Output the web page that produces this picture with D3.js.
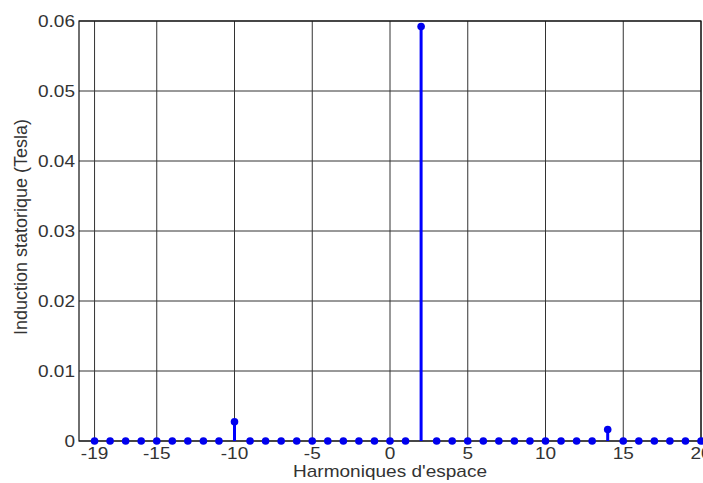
<!DOCTYPE html>
<html>
  <head>
    <style>
      body { margin: 0; background: #fff; }
      text { font-family: "Liberation Sans", Arial, sans-serif; fill: #333; font-size: 17px; }
    </style>
  </head>
  <body>
    <svg class="surface" width="703" height="483"></svg>

    <script src="https://cdn.jsdelivr.net/npm/d3@7/dist/d3.min.js"></script>
    <script>
      // harmonic ranks and their induction
      const harmonics = d3.range(-19, 21)
      const peaks = { '-10': 0.00275, '2': 0.0592, '14': 0.00165 }
      const induction = harmonics.map(h => peaks[h] || 0)

      const xTicks = [-19, -15, -10, -5, 0, 5, 10, 15, 20]
      const yTicks = [0, 0.01, 0.02, 0.03, 0.04, 0.05, 0.06]

      const data = harmonics.map((h, i) => ({ h, v: induction[i] }))

      const svg = d3.select('.surface')
      const plotL = 79, plotR = 701, plotT = 21, plotB = 441
      const sx = 1.12 // the source picture is a bit wide

      const x = d3.scaleLinear().domain([-20, 20]).range([plotL, plotR])
      const y = d3.scaleLinear().domain([0, 0.06]).range([plotB, plotT])

      // grid
      svg.append('g').selectAll('line')
        .data(xTicks)
        .enter().append('line')
        .attr('x1', d => x(d)).attr('x2', d => x(d))
        .attr('y1', plotT).attr('y2', plotB)
        .attr('stroke', '#333').attr('stroke-width', 1)

      svg.append('g').selectAll('line')
        .data(yTicks)
        .enter().append('line')
        .attr('x1', plotL).attr('x2', plotR)
        .attr('y1', d => y(d)).attr('y2', d => y(d))
        .attr('stroke', '#333').attr('stroke-width', 1)

      // box
      svg.append('rect')
        .attr('x', plotL).attr('y', plotT)
        .attr('width', plotR - plotL).attr('height', plotB - plotT)
        .attr('fill', 'none').attr('stroke', '#111').attr('stroke-width', 1.2)

      // tick labels
      svg.append('g').selectAll('text')
        .data(xTicks)
        .enter().append('text')
        .attr('transform', d => `translate(${x(d)},459) scale(${sx},1)`)
        .attr('text-anchor', 'middle')
        .text(d => d)

      svg.append('g').selectAll('text')
        .data(yTicks)
        .enter().append('text')
        .attr('transform', d => `translate(${plotL - 4},${y(d) + 6}) scale(${sx},1)`)
        .attr('text-anchor', 'end')
        .text(d => d === 0 ? '0' : d3.format('.2f')(d))

      svg.append('text')
        .attr('transform', `translate(${x(0)},477) scale(${sx},1)`)
        .attr('text-anchor', 'middle')
        .text("Harmoniques d'espace")

      svg.append('text')
        .attr('transform', `translate(27,227) rotate(-90)`)
        .attr('text-anchor', 'middle')
        .style('font-size', '18px')
        .text('Induction statorique (Tesla)')

      // stems
      const stems = svg.append('g')
      stems.selectAll('line')
        .data(data.filter(d => d.v > 0))
        .enter().append('line')
        .attr('x1', d => x(d.h)).attr('x2', d => x(d.h))
        .attr('y1', y(0)).attr('y2', d => y(d.v))
        .attr('stroke', '#0000ff').attr('stroke-width', 3)

      stems.selectAll('circle')
        .data(data)
        .enter().append('circle')
        .attr('cx', d => x(d.h))
        .attr('cy', d => y(d.v))
        .attr('r', 3.8)
        .attr('fill', '#0000ee')
    </script>
  </body>
</html>
